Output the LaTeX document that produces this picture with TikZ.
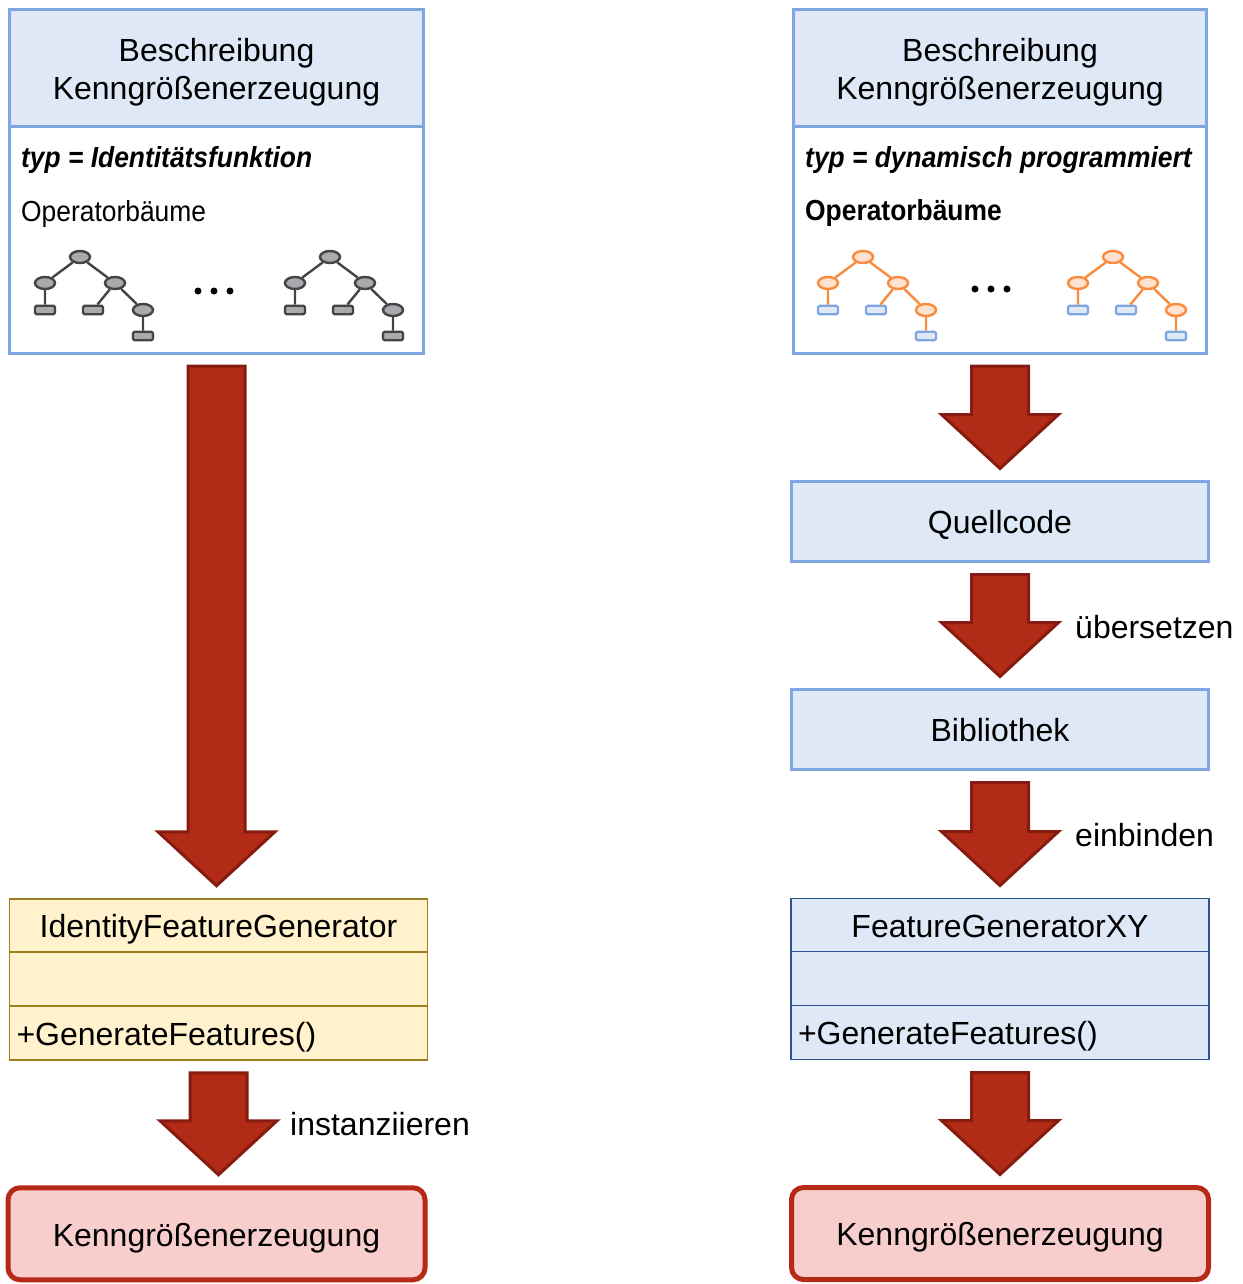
\documentclass[tikz,border=0pt]{standalone}
\usepackage{fontspec}
\setmainfont{Liberation Sans}
\newfontfamily\narrowfont[FakeStretch=0.91]{Liberation Sans}
\usetikzlibrary{positioning,calc,shapes.geometric}

\definecolor{hdrblue}{HTML}{DFE8F7}
\definecolor{edgeblue}{HTML}{7EA6E0}
\definecolor{clsyellow}{HTML}{FFF2CC}
\definecolor{clsolive}{HTML}{9C7F1E}
\definecolor{clsnavy}{HTML}{2F5597}
\definecolor{arrred}{HTML}{B22B16}
\definecolor{arrdark}{HTML}{861C10}
\definecolor{outpink}{HTML}{F8CECC}
\definecolor{outred}{HTML}{B52A17}
\definecolor{nodegrey}{HTML}{A8AAAD}
\definecolor{linegrey}{HTML}{444444}
\definecolor{nodeorange}{HTML}{FFE2CF}
\definecolor{lineorange}{HTML}{FA8A3C}

\tikzset{
  bigfont/.style={font=\fontsize{32}{38}\selectfont},
  oneline/.style={text height=24.5pt,text depth=0pt},
  deschead/.style={draw=edgeblue,fill=hdrblue,line width=3pt,minimum width=414pt,
    minimum height=117pt,align=center,inner sep=0pt,outer sep=0pt,bigfont,
    text height=64pt,text depth=2pt},
  descbody/.style={draw=edgeblue,fill=white,line width=3pt,minimum width=414pt,
    minimum height=226pt,inner sep=0pt,outer sep=0pt},
  flowbox/.style={draw=edgeblue,fill=hdrblue,line width=3pt,minimum width=417pt,
    minimum height=80pt,inner sep=0pt,outer sep=0pt,bigfont,oneline},
  clsname/.style={line width=1.5pt,minimum width=418pt,minimum height=53pt,
    inner sep=0pt,outer sep=0pt,bigfont,oneline},
  clsattr/.style={clsname,minimum height=54pt},
  clsop/.style={clsname,minimum height=54pt,text width=404pt,inner xsep=7pt,align=left},
  clsy/.style={draw=clsolive,fill=clsyellow},
  clsb/.style={draw=clsnavy,fill=hdrblue},
  outbox/.style={draw=outred,fill=outpink,line width=5pt,rounded corners=12pt,
    minimum width=417pt,minimum height=92pt,inner sep=0pt,outer sep=0pt,bigfont,oneline},
  bigarrow/.style={draw=arrdark,fill=arrred,line width=3pt,line join=miter},
  arrlbl/.style={anchor=west,inner sep=0pt,bigfont},
  typlbl/.style={anchor=base west,inner sep=0pt,
    font=\narrowfont\fontsize{29}{34}\selectfont\bfseries\itshape},
  oplbl/.style={anchor=base west,inner sep=0pt,font=\narrowfont\fontsize{29}{34}\selectfont},
  tnodeg/.style={ellipse,draw=linegrey,fill=nodegrey,line width=2.4pt,minimum width=20pt,
    minimum height=12pt,inner sep=0pt},
  tleafg/.style={rectangle,rounded corners=1.5pt,draw=linegrey,fill=nodegrey,line width=2.4pt,
    minimum width=20pt,minimum height=8.5pt,inner sep=0pt},
  tedgeg/.style={draw=linegrey,line width=2.4pt},
  tnodeo/.style={tnodeg,draw=lineorange,fill=nodeorange},
  tleafo/.style={tleafg,draw=edgeblue,fill=hdrblue},
  tedgeo/.style={draw=lineorange,line width=2.4pt},
  tdot/.style={circle,fill=black,inner sep=0pt,minimum size=7pt},
}

% block arrow between two boxes
\newcommand{\flowarrow}[2]{%
  \draw[bigarrow] let \p1=($(#1.south)+(0,13)$), \p2=($(#2.north)+(0,-13)$) in
    (\x1-28.5pt,\y1) -- (\x1+28.5pt,\y1) -- (\x1+28.5pt,\y2+54pt) -- (\x1+58.5pt,\y2+54pt)
    -- (\x1,\y2) -- (\x1-58.5pt,\y2+54pt) -- (\x1-28.5pt,\y2+54pt) -- cycle;}

% small operator tree: name prefix, root x, colour variant
\newcommand{\optree}[3]{%
  \node[tnode#3] (#1r) at (#2,257) {};
  \node[tnode#3] (#1a) at (#2-35,283) {};
  \node[tnode#3] (#1b) at (#2+35,283) {};
  \node[tleaf#3] (#1c) at (#2-35,310) {};
  \node[tleaf#3] (#1d) at (#2+13,310) {};
  \node[tnode#3] (#1e) at (#2+63,310) {};
  \node[tleaf#3] (#1f) at (#2+63,336) {};
  \path[tedge#3] (#1r) -- (#1a) (#1r) -- (#1b) (#1a) -- (#1c)
    (#1b) -- (#1d) (#1b) -- (#1e) (#1e) -- (#1f);}

\begin{document}
\begin{tikzpicture}[x=1pt,y=-1pt]
  \useasboundingbox (0,0) rectangle (1242,1284);

  % left column
  \node[deschead] (headL) at (216.5,68.5) {Beschreibung\\Kenngrößenerzeugung};
  \node[descbody,below=0pt of headL] (bodyL) {};
  \node[typlbl] (typL) at (21,167.5) {typ = Identitätsfunktion};
  \node[oplbl] (opL) at (21,221.5) {Operatorbäume};
  \optree{tla}{80}{g}
  \optree{tlb}{330}{g}
  \foreach \i in {0,1,2} \node[tdot] (dotL\i) at (198+16*\i,291) {};

  \node[clsname,clsy,below=545.75pt of bodyL,xshift=2pt] (nameL) {IdentityFeatureGenerator};
  \node[clsattr,clsy,below=0pt of nameL] (attrL) {};
  \node[clsop,clsy,below=0pt of attrL] (methL) {+GenerateFeatures()};
  \node[outbox,below=128pt of methL,xshift=-2pt] (outL) {Kenngrößenerzeugung};

  \flowarrow{bodyL}{nameL}
  \flowarrow{methL}{outL}
  \node[arrlbl] (instL) at (290,1124) {instanziieren};

  % right column
  \node[deschead,minimum width=413pt] (headR) at (1000,68.5) {Beschreibung\\Kenngrößenerzeugung};
  \node[descbody,minimum width=413pt,below=0pt of headR] (bodyR) {};
  \node[typlbl] (typR) at (805,167.5) {typ = dynamisch programmiert};
  \node[oplbl,font=\narrowfont\fontsize{29}{34}\selectfont\bfseries] (opR) at (805,220.5) {Operatorbäume};
  \optree{tra}{863}{o}
  \optree{trb}{1113}{o}
  \foreach \i in {0,1,2} \node[tdot] (dotR\i) at (975+16*\i,289) {};

  \node[flowbox,below=128.5pt of bodyR] (quell) {Quellcode};
  \node[flowbox,below=128pt of quell] (bib) {Bibliothek};
  \node[clsname,clsb,below=129pt of bib] (nameR) {FeatureGeneratorXY};
  \node[clsattr,clsb,below=0pt of nameR] (attrR) {};
  \node[clsop,clsb,below=0pt of attrR] (methR) {+GenerateFeatures()};
  \node[outbox,below=128pt of methR] (outR) {Kenngrößenerzeugung};

  \flowarrow{bodyR}{quell}
  \flowarrow{quell}{bib}
  \flowarrow{bib}{nameR}
  \flowarrow{methR}{outR}
  \node[arrlbl] (uebR) at (1075,627) {übersetzen};
  \node[arrlbl] (einR) at (1075,835) {einbinden};
\end{tikzpicture}
\end{document}
